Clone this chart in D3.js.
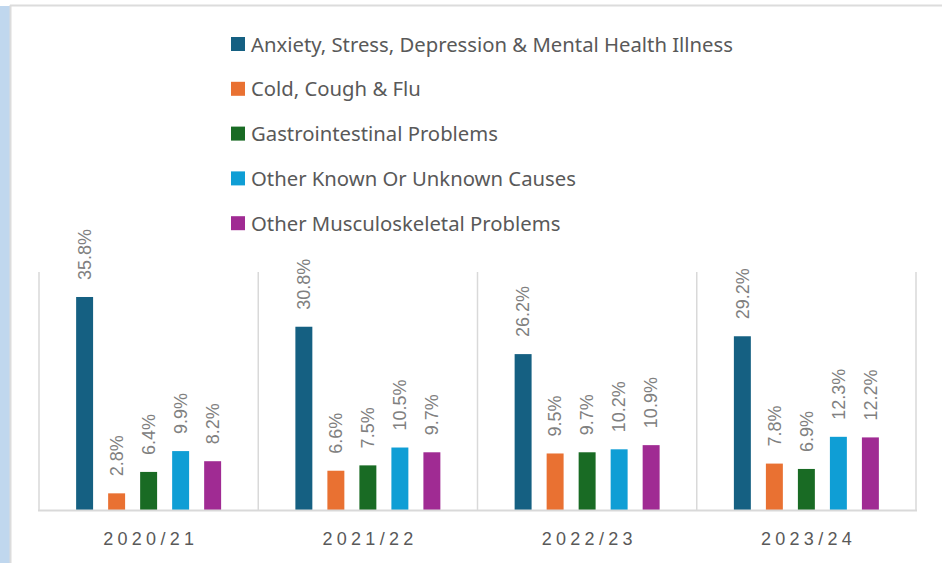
<!DOCTYPE html>
<html>
<head>
<meta charset="utf-8">
<script src="https://cdn.jsdelivr.net/npm/d3@7"></script>
<style>
  html, body { margin: 0; padding: 0; background: #fff; }
  svg { display: block; }
</style>
</head>
<body>
<script>
// data
var years = ["2020/21", "2021/22", "2022/23", "2023/24"];
var series = [
  "Anxiety, Stress, Depression & Mental Health Illness",
  "Cold, Cough & Flu",
  "Gastrointestinal Problems",
  "Other Known Or Unknown Causes",
  "Other Musculoskeletal Problems"
];
var colors = ["#156082", "#e97132", "#196b24", "#0f9ed5", "#a02b93"];
// values[series][year]
var values = [
  [35.8, 30.8, 26.2, 29.2],
  [2.8, 6.6, 9.5, 7.8],
  [6.4, 7.5, 9.7, 6.9],
  [9.9, 10.5, 10.2, 12.3],
  [8.2, 9.7, 10.9, 12.2]
];

var w = 942, h = 563;
// plot box (don't call it "top", that's window.top)
var plotL = 39, plotR = 916, plotT = 272, plotB = 510;

var svg = d3.select("body").append("svg").attr("width", w).attr("height", h);

// page frame: blue strip at left, grey edge of the white card
svg.append("rect").attr("x", 0).attr("y", 6).attr("width", 10).attr("height", h - 6).attr("fill", "#c0d7ee");
svg.append("line").attr("x1", 10).attr("x2", w).attr("y1", 5.5).attr("y2", 5.5)
   .attr("stroke", "#dcdcdc").attr("stroke-width", 2);
svg.append("line").attr("x1", 10.5).attr("x2", 10.5).attr("y1", 5).attr("y2", h)
   .attr("stroke", "#dcdcdc").attr("stroke-width", 2);

// scales
var x0 = d3.scaleBand().domain(years).range([plotL, plotR]).padding(0);
var x1 = d3.scaleBand().domain(d3.range(series.length)).range([0, x0.bandwidth()])
           .paddingInner(0.47).paddingOuter(1.16);
var y = d3.scaleLinear().domain([0, 40]).range([plotB, plotT]);

// group separators
svg.selectAll(".sep")
   .data(d3.range(years.length + 1))
   .enter().append("line")
   .attr("class", "sep")
   .attr("x1", function(i){ return plotL + i * x0.step(); })
   .attr("x2", function(i){ return plotL + i * x0.step(); })
   .attr("y1", plotT).attr("y2", plotB)
   .attr("stroke", "#d9d9d9").attr("stroke-width", 1.5);

// bars
var rows = [];
series.forEach(function(s, si){
  years.forEach(function(yr, yi){
    rows.push({s: si, year: yr, v: values[si][yi]});
  });
});

svg.selectAll(".bar")
   .data(rows)
   .enter().append("rect")
   .attr("class", "bar")
   .attr("x", function(d){ return x0(d.year) + x1(d.s); })
   .attr("width", x1.bandwidth())
   .attr("y", function(d){ return y(d.v); })
   .attr("height", function(d){ return y(0) - y(d.v); })
   .attr("fill", function(d){ return colors[d.s]; });

// value labels, rotated
svg.selectAll(".lbl")
   .data(rows)
   .enter().append("text")
   .attr("class", "lbl")
   .attr("transform", function(d){
      var cx = x0(d.year) + x1(d.s) + x1.bandwidth() / 2;
      return "translate(" + cx + "," + (y(d.v) - 17) + ") rotate(-90)";
   })
   .attr("dy", "0.35em")
   .attr("text-anchor", "start")
   .style("font-family", "'Liberation Sans', Arial, sans-serif")
   .style("font-size", "18px")
   .attr("fill", "#808080")
   .text(function(d){ return d.v.toFixed(1) + "%"; });

// baseline
svg.append("line").attr("x1", plotL - 1).attr("x2", plotR + 1).attr("y1", plotB + 0.5).attr("y2", plotB + 0.5)
   .attr("stroke", "#d9d9d9").attr("stroke-width", 2);

// category labels
var ls = 4.3;
svg.selectAll(".cat")
   .data(years)
   .enter().append("text")
   .attr("class", "cat")
   .attr("x", function(d){ return x0(d) + x0.bandwidth() / 2 + ls / 2; })
   .attr("y", 545)
   .attr("text-anchor", "middle")
   .style("font-family", "'Liberation Sans', Arial, sans-serif")
   .style("font-size", "18px")
   .style("letter-spacing", ls + "px")
   .attr("fill", "#595959")
   .text(function(d){ return d; });

// legend
var leg = svg.selectAll(".leg")
   .data(series)
   .enter().append("g")
   .attr("class", "leg")
   .attr("transform", function(d, i){ return "translate(231," + (44 + i * 44.8) + ")"; });
leg.append("rect").attr("x", 0).attr("y", -7).attr("width", 14).attr("height", 14)
   .attr("fill", function(d, i){ return colors[i]; });
leg.append("text").attr("x", 20).attr("y", 7.5)
   .style("font-family", "'Noto Sans', sans-serif")
   .style("font-size", "20.3px")
   .attr("fill", "#595959")
   .text(function(d){ return d; });
</script>
</body>
</html>
